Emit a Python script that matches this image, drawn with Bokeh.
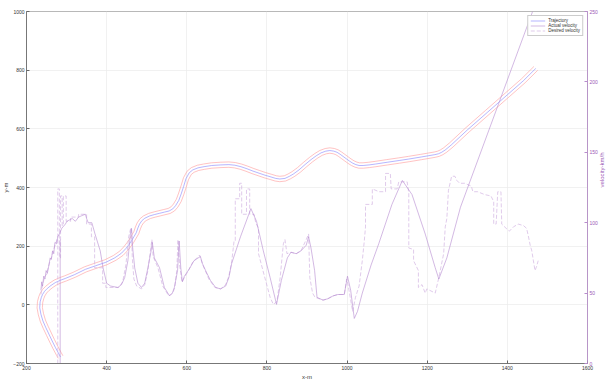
import math
import numpy as np
from bokeh.plotting import figure
from bokeh.models import Range1d, LinearAxis, FixedTicker, Legend, LegendItem
from bokeh.embed import file_html
from bokeh.resources import INLINE

# ---------------- data ----------------
traj_x = [285, 281, 272, 264, 256, 248, 241, 236, 233, 234, 237, 240, 245, 252, 261, 272,
          285, 297, 320, 347, 372, 398, 420, 437, 448, 456, 462, 468, 474, 478, 482,
          488, 495, 507, 520, 532, 544, 556, 565, 572, 580, 586, 592, 598, 606, 615,
          628, 643, 662, 685, 705, 720, 735, 750, 765, 780, 795, 810, 822, 832, 845,
          856, 866, 880, 895, 910, 923, 935, 947, 957, 967, 975, 983, 990, 998, 1006,
          1014, 1022, 1030, 1040, 1055, 1071, 1100, 1130, 1154, 1185, 1219, 1228, 1236,
          1245, 1260, 1300, 1350, 1400, 1440, 1471]
traj_y = [-178, -168, -145, -123, -100, -77, -55, -32, -10, 10, 25, 35, 46, 56, 66, 76,
          84, 90, 103, 121, 133, 145, 160, 176, 192, 206, 218, 232, 246, 262, 275,
          287, 295, 303, 308, 312, 316, 320, 327, 338, 356, 378, 403, 430, 450, 460,
          467, 471, 475, 477, 478, 476, 471, 464, 456, 449, 442, 436, 431, 429, 431,
          438, 446, 460, 478, 495, 508, 518, 524, 526, 524, 520, 513, 506, 498, 490,
          483, 478, 475, 475, 477, 480, 486, 492, 497, 504, 512, 515, 520,
          528, 545, 596, 656, 716, 764, 806]

act_x = [284, 284, np.nan,
         236, 238, 240, 243, 246, 249, 252, 256, 259, 262, 265, 268, 271, 275, 278, 282,
         288, 297, 301, 314, 322, 330, 338, 347, 350, 354, 363, 371, 384, 391, 400, 410,
         428, 437, 445, 453, 460, 462, 465, 470, 478, 487, 495, 503, 511, 514, 519, 532,
         544, 557, 564, 569, 577, 581, 585, 589, 594, 606, 618, 634, 639, 647, 659, 672,
         684, 697, 705, 712, 734, 760, 774, 791, 808, 824, 836, 851, 860, 873, 885, 898,
         904, 910, 919, 925, 940, 952, 965, 977, 993, 1001, 1009, 1018, 1026, 1038, 1060,
         1079, 1112, 1138, 1162, 1195, 1220, 1229, 1249, 1283, 1463]
act_v = [0, 88, np.nan,
         52, 58, 55, 62, 60, 66, 64, 70, 75, 74, 80, 78, 86, 85, 90, 92,
         96, 99, 101, 103, 101, 104, 105, 106, 103, 100, 100, 92, 80, 68, 57, 55,
         54, 56, 61, 73, 94, 96, 82, 68, 57, 54, 57, 68, 80, 86, 75, 68,
         54, 48, 50, 54, 66, 87, 68, 58, 62, 67, 73, 76, 71, 66, 59, 54,
         53, 55, 61, 71, 90, 110, 101, 80, 61, 42, 59, 75, 79, 78, 80, 84,
         90, 82, 66, 47, 45, 46, 48, 49, 49, 62, 52, 32, 37, 50, 70,
         85, 113, 130, 120, 92, 68, 60, 75, 111, 250]

des_x = [236, 239, 242, 246, 250, 254, 258, 262, 266, 270, 274, 277, np.nan,
         278, 278, 282, 282, 285, 285, 289, 289, 292, 292, 299, 299, 310, 310, 330, 330,
         350, 350, 362, 362, 370, 370, 390, 390, 398, 398, 430, 440, 448, 455, 460,
         462, 464, 468, 475, 487, 495, 503, 510, 513, 516, 528, 540, 555, 565, 570,
         575, 578, 582, 588, 600, 615, 632, 640, 655, 670, 685, 697, 705, 712, 718,
         721, 721, 732, 732, 737, 737, 749, 749, 757, 757, 768, 772, 779, 779, 791,
         808, 816, 825, 833, 841, 845, 850, 860, 873, 885, 898, 904, 907, 914, 920,
         940, 952, 965, 977, 993, 999, 1003, 1009, 1014, 1021, 1030, 1038, 1043, 1046,
         1046, 1063, 1063, 1080, 1096, 1096, 1108, 1110, 1125, 1129, 1150, 1154, 1154,
         1166, 1166, 1178, 1178, 1187, 1195, 1199, 1220, 1229, 1241, 1245, 1249, 1253,
         1261, 1269, 1274, 1281, 1293, 1310, 1314, 1326, 1343, 1359, 1366, 1366, 1372,
         1376, 1384, 1386, 1397, 1405, 1415, 1427, 1440, 1448, 1452, 1457, 1461, 1465,
         1469, 1473, 1477]
des_v = [49, 54, 58, 62, 63, 68, 72, 75, 79, 83, 86, 89, np.nan,
         0, 124, 124, 75, 75, 119, 119, 98, 98, 119, 119, 101, 101, 104, 104, 106,
         106, 99, 99, 90, 90, 68, 68, 57, 57, 54, 54, 58, 70, 90, 96,
         96, 75, 60, 55, 53, 56, 66, 82, 88, 76, 68, 55, 48, 50, 54,
         66, 88, 70, 58, 64, 72, 77, 70, 60, 54, 53, 56, 62, 72, 87,
         87, 117, 117, 128, 128, 106, 106, 124, 124, 106, 106, 100, 96, 78, 65,
         47, 42, 44, 61, 85, 88, 78, 79, 78, 80, 88, 92, 61, 50, 47,
         45, 46, 48, 49, 49, 60, 55, 45, 37, 47, 55, 73, 87, 97,
         113, 113, 124, 122, 122, 135, 135, 124, 124, 129, 129, 121, 82,
         81, 73, 66, 54, 56, 50, 53, 50, 61, 78, 97, 103, 123,
         133, 133, 130, 128, 128, 126, 122, 122, 120, 119, 115, 99, 99,
         122, 122, 99, 96, 94, 97, 99, 98, 96, 91, 84, 80, 73,
         66, 69, 73]

x_ticks = [200, 400, 600, 800, 1000, 1200, 1400, 1600]
y_ticks = [-200, 0, 200, 400, 600, 800, 1000]
v_ticks = [0, 50, 100, 150, 200, 250]

# ------------- lane edges (offset of the centre line, in screen proportion) -------------
px_per_x = 80.95 / 200.0
px_per_y = 58.7 / 200.0
half_lane_px = 2.7
cx = np.array(traj_x, float) * px_per_x
cy = np.array(traj_y, float) * px_per_y
tx = np.gradient(cx)
ty = np.gradient(cy)
nrm = np.hypot(tx, ty)
nx = -ty / nrm
ny = tx / nrm
left_x = (cx + half_lane_px * nx) / px_per_x
left_y = (cy + half_lane_px * ny) / px_per_y
right_x = (cx - half_lane_px * nx) / px_per_x
right_y = (cy - half_lane_px * ny) / px_per_y

# ---------------- figure ----------------
FONT = "Liberation Sans"
p = figure(width=614, height=385, output_backend="svg", toolbar_location=None,
           x_range=Range1d(200, 1600), y_range=Range1d(-200, 1000),
           min_border_left=21, min_border_right=27, min_border_top=11, min_border_bottom=22)
p.extra_y_ranges = {"v": Range1d(0, 250)}
p.background_fill_color = "white"
p.border_fill_color = "white"
p.outline_line_color = "#9a9a9a"
p.outline_line_width = 0.7

p.xaxis.ticker = FixedTicker(ticks=x_ticks)
p.yaxis.ticker = FixedTicker(ticks=y_ticks)
p.xgrid.grid_line_color = "#ebebeb"
p.ygrid.grid_line_color = "#ebebeb"
p.xgrid.grid_line_width = 0.7
p.ygrid.grid_line_width = 0.7

for ax in (p.xaxis[0], p.yaxis[0]):
    ax.axis_line_color = "#666666"
    ax.axis_line_width = 0.8
    ax.major_tick_line_color = "#666666"
    ax.major_tick_in = 3
    ax.major_tick_out = 0
    ax.minor_tick_line_color = None
    ax.major_label_text_font = FONT
    ax.major_label_text_font_size = "5px"
    ax.major_label_text_color = "#333333"
    ax.major_label_standoff = 2
    ax.axis_label_text_font = FONT
    ax.axis_label_text_font_size = "6px"
    ax.axis_label_text_font_style = "normal"
    ax.axis_label_text_color = "#333333"
    ax.axis_label_standoff = 1
p.xaxis.axis_label = "x-m"
p.yaxis.axis_label = "y-m"

vcol = "#9b59b6"
vax = LinearAxis(y_range_name="v", ticker=FixedTicker(ticks=v_ticks), axis_label="velocity-km/h")
vax.axis_line_color = "#b88ccc"
vax.axis_line_width = 0.8
vax.major_tick_line_color = "#b88ccc"
vax.major_tick_in = 3
vax.major_tick_out = 0
vax.minor_tick_line_color = None
vax.major_label_text_font = FONT
vax.major_label_text_font_size = "5px"
vax.major_label_text_color = vcol
vax.major_label_standoff = 2
vax.axis_label_text_font = FONT
vax.axis_label_text_font_size = "6px"
vax.axis_label_text_font_style = "normal"
vax.axis_label_text_color = vcol
vax.axis_label_standoff = 1
vax.axis_label_orientation = math.pi / 2
p.add_layout(vax, "right")

# trajectory
r_left = p.line(left_x, left_y, line_color="#ff9a9a", line_width=0.6)
r_right = p.line(right_x, right_y, line_color="#ff9a9a", line_width=0.6)
r_traj = p.line(traj_x, traj_y, line_color="#8484ff", line_width=0.6)

# velocities
r_des = p.line(des_x, des_v, y_range_name="v", line_color="#d2b4e2", line_width=0.7,
               line_dash="4 2")
r_act = p.line(act_x, act_v, y_range_name="v", line_color="#b58ad0", line_width=0.6)

legend = Legend(items=[LegendItem(label="Trajectory", renderers=[r_traj]),
                       LegendItem(label="Actual velocity", renderers=[r_act]),
                       LegendItem(label="Desired velocity", renderers=[r_des])],
                location="top_right")
legend.label_text_font = FONT
legend.label_text_font_size = "4.5px"
legend.label_text_color = "#333333"
legend.label_height = 5
legend.label_standoff = 3
legend.glyph_height = 5
legend.glyph_width = 15
legend.spacing = 0
legend.padding = 2
legend.margin = 4
legend.border_line_color = "#999999"
legend.border_line_width = 0.7
legend.background_fill_alpha = 1.0
p.add_layout(legend)

open("out.html", "w").write(file_html(p, INLINE))
